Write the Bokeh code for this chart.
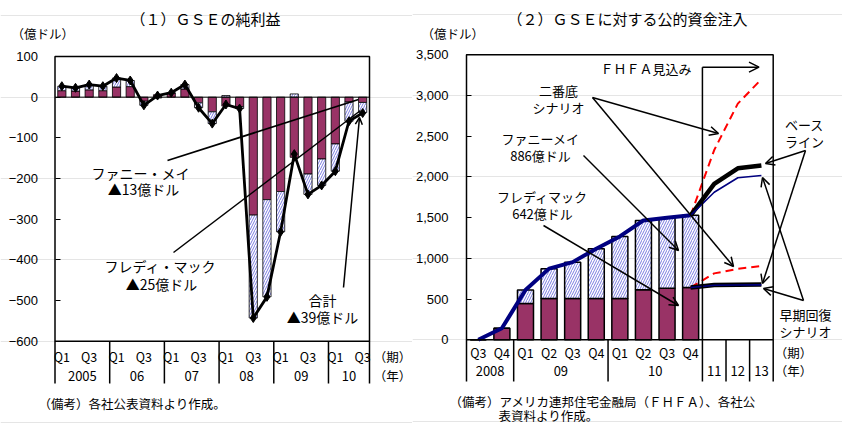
from bokeh.plotting import figure
from bokeh.layouts import row
from bokeh.models import (Range1d, FixedTicker, Label, Arrow, OpenHead, NumeralTickFormatter,
                          LinearAxis, BasicTickFormatter)
from bokeh.embed import file_html
from bokeh.resources import INLINE

JP = "Noto Sans CJK JP"

# ---------------- data: (1) GSE net income (100 million USD) ----------------
l_periods = ["Q1", "", "Q3", "", "Q1", "", "Q3", "", "Q1", "", "Q3", "",
             "Q1", "", "Q3", "", "Q1", "", "Q3", "", "Q1", "", "Q3"]
l_years = ["2005", "06", "07", "08", "09", "10"]
l_year_len = [4, 4, 4, 4, 4, 3]
fannie_net = [16, 15, 18, 16, 25, 26, -10, 6, 10, 20, -14, -36,
              -22, -23, -290, -252, -232, -148, -189, -152, -115, -12, -13]
freddie_net = [11, 8, 13, 11, 22, 15, -10, -2, 1, 11, -12, -29,
               4, -5, -253, -239, -99, 8, -50, -65, -67, -47, -25]
total_net = [27, 23, 31, 27, 47, 41, -20, 4, 11, 31, -26, -65,
             -18, -28, -543, -491, -331, -140, -239, -217, -182, -59, -39]

# ---------------- data: (2) public capital injections (cumulative) ----------------
r_periods = ["Q3", "Q4", "Q1", "Q2", "Q3", "Q4", "Q1", "Q2", "Q3", "Q4"]
r_years = ["2008", "09", "10", "11", "12", "13"]
r_year_len = [2, 4, 4, 1, 1, 1]
freddie_cum = [0, 140, 446, 507, 507, 507, 507, 613, 631, 642]
fannie_cum = [0, 0, 165, 366, 446, 611, 762, 852, 866, 886]
total_cum = [0, 140, 611, 873, 953, 1118, 1269, 1465, 1497, 1528]
# FHFA projections: 2010Q4, 2011, 2012, 2013
base_total = [1528, 1915, 2105, 2140]
early_total = [1528, 1812, 1990, 2017]
dip_total = [1528, 2330, 2900, 3200]
base_fred = [642, 672, 676, 678]
early_fred = [642, 668, 672, 674]
dip_fred = [642, 815, 870, 905]

# ---------------- layout ----------------
W_L, W_TOT, H = 412, 842, 432
W_R = W_TOT - W_L
L_X0, L_PR, L_TOP, L_BOT, L_VMAX, L_VMIN = 54.5, 369, 56, 340.7, 100, -600
nL = len(total_net)
lq = (L_PR - L_X0) / nL
lppu = (L_BOT - L_TOP) / (L_VMAX - L_VMIN)
def lx(px): return (px - L_X0) / lq - 0.5
def ly(py): return L_VMAX - (py - L_TOP) / lppu

R_X0, R_PR, R_TOP, R_BOT, R_VMAX, R_VMIN = 466, 772.7, 54.3, 339.2, 3500, 0
nR = len(r_periods) + 3
rs = (R_PR - R_X0) / nR
rppu = (R_BOT - R_TOP) / (R_VMAX - R_VMIN)
def rx(px): return (px - R_X0) / rs - 0.5
def ry(py): return R_VMAX - (py - R_TOP) / rppu

MAROON = "#993366"
HATCH = "#7b7be0"


def label(p, x, y, text, size, align="center", baseline="middle"):
    p.add_layout(Label(x=x, y=y, text=text, text_font_size=f"{size}px", text_align=align,
                       text_baseline=baseline, text_font=JP, text_color="black"))


def arrow(p, x0, y0, x1, y1, head=True, lw=1.5, size=9):
    p.add_layout(Arrow(x_start=x0, y_start=y0, x_end=x1, y_end=y1, line_width=lw, line_color="black",
                       end=OpenHead(size=size, line_width=lw, line_color="black") if head else None))


def base_fig(width, xr, yr, ticks, standoff, formatter):
    p = figure(width=width, height=H, x_range=xr, y_range=yr, x_axis_type=None,
               y_axis_location=None, output_backend="svg", toolbar_location=None, min_border=0)
    p.outline_line_color = None
    ax = LinearAxis(fixed_location=-0.5, ticker=FixedTicker(ticks=ticks), formatter=formatter)
    ax.axis_line_color = None
    ax.major_tick_in = 5
    ax.major_tick_out = 0
    ax.minor_tick_line_color = None
    ax.major_tick_line_color = "black"
    ax.major_tick_line_width = 1.2
    ax.major_label_text_font = "Liberation Sans"
    ax.major_label_text_font_size = "13px"
    ax.major_label_text_color = "black"
    ax.major_label_standoff = standoff
    p.add_layout(ax, "left")
    return p

# ================= left chart =================
p1 = base_fig(W_L, Range1d(lx(0), lx(W_L)), Range1d(ly(H), ly(0)),
              list(range(L_VMIN, L_VMAX + 1, 100)), 17, BasicTickFormatter())
xs = list(range(nL))
fb, ft, rb, rt = [], [], [], []
for f, r in zip(fannie_net, freddie_net):
    fb.append(min(f, 0)); ft.append(max(f, 0))
    if r >= 0:
        b = max(f, 0); rb.append(b); rt.append(b + r)
    else:
        b = min(f, 0); rb.append(b + r); rt.append(b)
p1.vbar(x=xs, width=0.6, bottom=fb, top=ft, fill_color=MAROON, line_color="black", line_width=0.8)
p1.vbar(x=xs, width=0.6, bottom=rb, top=rt, fill_color="white", hatch_pattern="/",
        hatch_color=HATCH, hatch_scale=5, hatch_weight=1, line_color="black", line_width=0.8)
p1.segment(x0=[-0.5], y0=[0], x1=[nL - 0.5], y1=[0], line_color="black", line_width=1)
p1.line(xs, total_net, line_color="black", line_width=2.8)
p1.scatter(xs, total_net, marker="diamond", size=9, fill_color="black", line_color="black")
p1.quad(left=[-0.5], right=[nL - 0.5], top=[L_VMAX], bottom=[L_VMIN], fill_color=None,
        line_color="black", line_width=1.5)

# category axis
yb = ly(383)
bounds = [-0.5]
for n in l_year_len:
    bounds.append(bounds[-1] + n)
p1.segment(x0=bounds, y0=[L_VMIN] * len(bounds), x1=bounds, y1=[yb] * len(bounds),
           line_color="black", line_width=1.5)
for i, q in enumerate(l_periods):
    if q:
        label(p1, i, ly(355.5), q, 12.5)
for k, yname in enumerate(l_years):
    label(p1, (bounds[k] + bounds[k + 1]) / 2, ly(375), yname, 13)
label(p1, lx(392), ly(355.5), "（期）", 12.5)
label(p1, lx(392), ly(375), "（年）", 12.5)

label(p1, lx(205), ly(18), "（１）ＧＳＥの純利益", 15)
label(p1, lx(11), ly(33), "（億ドル）", 12.5, align="left")
label(p1, lx(38), ly(403), "（備考）各社公表資料より作成。", 12.5, align="left")

label(p1, lx(140), ly(172), "ファニー・メイ", 14)
label(p1, lx(143), ly(188), "▲13億ドル", 14)
label(p1, lx(160), ly(265), "フレディ・マック", 14)
label(p1, lx(161), ly(283), "▲25億ドル", 14)
label(p1, lx(322), ly(299), "合計", 14)
label(p1, lx(322), ly(316), "▲39億ドル", 14)
arrow(p1, lx(167), ly(160), lx(358), ly(99), head=False, lw=1.8)
arrow(p1, lx(173), ly(252), lx(360), ly(110), head=False, lw=1.5)
arrow(p1, lx(343), ly(287), lx(359), ly(117), head=True, lw=1.5, size=7)

# ================= right chart =================
p2 = base_fig(W_R, Range1d(rx(W_L), rx(W_TOT)), Range1d(ry(H), ry(0)),
              list(range(R_VMIN, R_VMAX + 1, 500)), 18, NumeralTickFormatter(format="0,0"))
xr = list(range(len(r_periods)))
p2.vbar(x=xr, width=0.68, bottom=0, top=freddie_cum, fill_color=MAROON, line_color="black",
        line_width=1.5)
tops = [a + b for a, b in zip(freddie_cum, fannie_cum)]
p2.vbar(x=xr, width=0.68, bottom=freddie_cum, top=tops, fill_color="white", hatch_pattern="/",
        hatch_color=HATCH, hatch_scale=5, hatch_weight=1, line_color="black", line_width=1.5)
p2.line(xr, total_cum, line_color="#000080", line_width=4)

xf = list(range(len(r_periods) - 1, nR))
p2.line(xf, dip_total, line_color="red", line_width=2, line_dash="8 5")
p2.line(xf, dip_fred, line_color="red", line_width=2, line_dash="8 5")
p2.line(xf, base_total, line_color="black", line_width=4.5)
p2.line(xf, early_total, line_color="#000080", line_width=1.6)
p2.line(xf, base_fred, line_color="black", line_width=4.5)
p2.line(xf, early_fred, line_color="#000080", line_width=1.6)

p2.quad(left=[-0.5], right=[nR - 0.5], top=[R_VMAX], bottom=[R_VMIN], fill_color=None,
        line_color="black", line_width=1.5)

# FHFA projection marker
fx = len(r_periods) - 0.5
p2.segment(x0=[fx], y0=[0], x1=[fx], y1=[ry(66.7)], line_color="black", line_width=1.5)
arrow(p2, fx, ry(66.7), rx(758.5), ry(66.7), head=True, lw=1.5, size=10)
label(p2, rx(691), ry(68), "ＦＨＦＡ見込み", 13, align="right")

# category axis
yb2 = ry(381)
rb_ = [-0.5]
for n in r_year_len:
    rb_.append(rb_[-1] + n)
p2.segment(x0=rb_, y0=[0] * len(rb_), x1=rb_, y1=[yb2] * len(rb_), line_color="black",
           line_width=1.5)
for i, q in enumerate(r_periods):
    label(p2, i, ry(351.5), q, 12.5)
for k, yname in enumerate(r_years):
    label(p2, (rb_[k] + rb_[k + 1]) / 2, ry(370), yname, 13)
label(p2, rx(793), ry(351.5), "（期）", 12.5)
label(p2, rx(793), ry(370), "（年）", 12.5)

label(p2, rx(627), ry(18), "（２）ＧＳＥに対する公的資金注入", 15)
label(p2, rx(421), ry(33), "（億ドル）", 12.5, align="left")
label(p2, rx(449), ry(401), "（備考）アメリカ連邦住宅金融局（ＦＨＦＡ）、各社公", 12.5, align="left")
label(p2, rx(498), ry(415), "表資料より作成。", 12.5, align="left")

label(p2, rx(558), ry(90), "二番底", 13)
label(p2, rx(558), ry(107), "シナリオ", 13)
arrow(p2, rx(592), ry(97), rx(718), ry(133))
arrow(p2, rx(592), ry(97), rx(733), ry(266))

label(p2, rx(540), ry(138), "ファニーメイ", 13)
label(p2, rx(540), ry(155), "886億ドル", 13)
arrow(p2, rx(583), ry(155), rx(678), ry(250))

label(p2, rx(542), ry(196), "フレディマック", 13)
label(p2, rx(542), ry(213), "642億ドル", 13)
arrow(p2, rx(543), ry(225), rx(678), ry(305))

label(p2, rx(804), ry(124), "ベース", 13)
label(p2, rx(804), ry(141), "ライン", 13)
arrow(p2, rx(805), ry(150), rx(765), ry(163))
arrow(p2, rx(805), ry(150), rx(762), ry(283))

label(p2, rx(805), ry(314), "早期回復", 13)
label(p2, rx(805), ry(331), "シナリオ", 13)
arrow(p2, rx(803), ry(300), rx(762), ry(177))
arrow(p2, rx(803), ry(300), rx(763), ry(288))

layout = row(p1, p2)
open("out.html", "w").write(file_html(layout, INLINE))
